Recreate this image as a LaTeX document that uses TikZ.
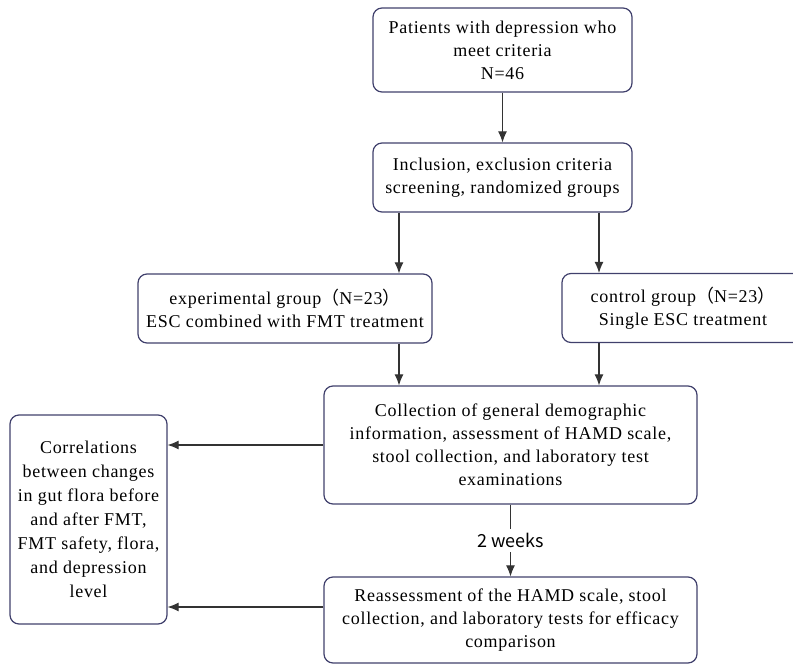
\documentclass[tikz,border=0pt]{standalone}
\usepackage{fontspec}
\setmainfont{Liberation Serif}[LetterSpace=4]
\newfontfamily\cjk{Noto Sans CJK SC}
\usepackage{tikz}
\usetikzlibrary{arrows.meta}

\tikzset{
  stage/.style={draw=black!65!blue!50!gray, line width=1.2pt, rounded corners=9pt,
    align=center, font=\fontsize{18}{23}\selectfont, inner sep=2pt},
  flow/.style={draw=black!80, line width=1.1pt, -{Latex[length=11pt,width=9pt]}},
}

\begin{document}
\begin{tikzpicture}[x=1pt, y=-1pt]
  \useasboundingbox (0,0) rectangle (793,664);
  % main column of stages
  \node[stage, minimum width=259pt, minimum height=84pt] (pat) at (502.5,50)
    {Patients with depression who\\meet criteria\\N=46};
  \node[stage, minimum width=259pt, minimum height=69pt] (scr) at (502.5,177.5)
    {Inclusion, exclusion criteria\\screening, randomized groups};
  % the two arms
  \node[stage, minimum width=294pt, minimum height=69pt] (exp) at (285,308.5)
    {experimental group{\cjk （}N=23{\cjk ）}\\ESC combined with FMT treatment};
  \node[stage, minimum width=242pt, minimum height=69pt] (ctl) at (683,308)
    {control group{\cjk （}N=23{\cjk ）}\\Single ESC treatment};
  % assessments
  \node[stage, minimum width=373pt, minimum height=118pt] (col) at (510.5,445)
    {Collection of general demographic\\information, assessment of HAMD scale,\\stool collection, and laboratory test\\examinations};
  \node[stage, minimum width=373pt, minimum height=86pt] (rea) at (510.5,620)
    {Reassessment of the HAMD scale, stool\\collection, and laboratory tests for efficacy\\comparison};
  % outcome
  \node[stage, minimum width=157pt, minimum height=209pt,
        font=\fontsize{18}{24}\selectfont] (cor) at (88.5,519.5)
    {Correlations\\between changes\\in gut flora before\\and after FMT,\\FMT safety, flora,\\and depression\\level};
  % column positions of the vertical links
  \coordinate (lft) at (399,0);
  \coordinate (rgt) at (599,0);
  \coordinate (low) at (0,607);
  % links
  \draw[flow] (pat) -- (scr);
  \draw[flow] (scr.south -| lft) -- (exp.north -| lft);
  \draw[flow] (scr.south -| rgt) -- (ctl.north -| rgt);
  \draw[flow] (exp.south -| lft) -- (col.north -| lft);
  \draw[flow] (ctl.south -| rgt) -- (col.north -| rgt);
  \draw[flow] (col) -- node[fill=white, inner sep=4pt, font=\cjk\fontsize{18}{20}\selectfont] {2 weeks} (rea);
  \draw[flow] (col.west) -- (cor.east |- col.west);
  \draw[flow] (rea.west |- low) -- (cor.east |- low);
\end{tikzpicture}
\end{document}
